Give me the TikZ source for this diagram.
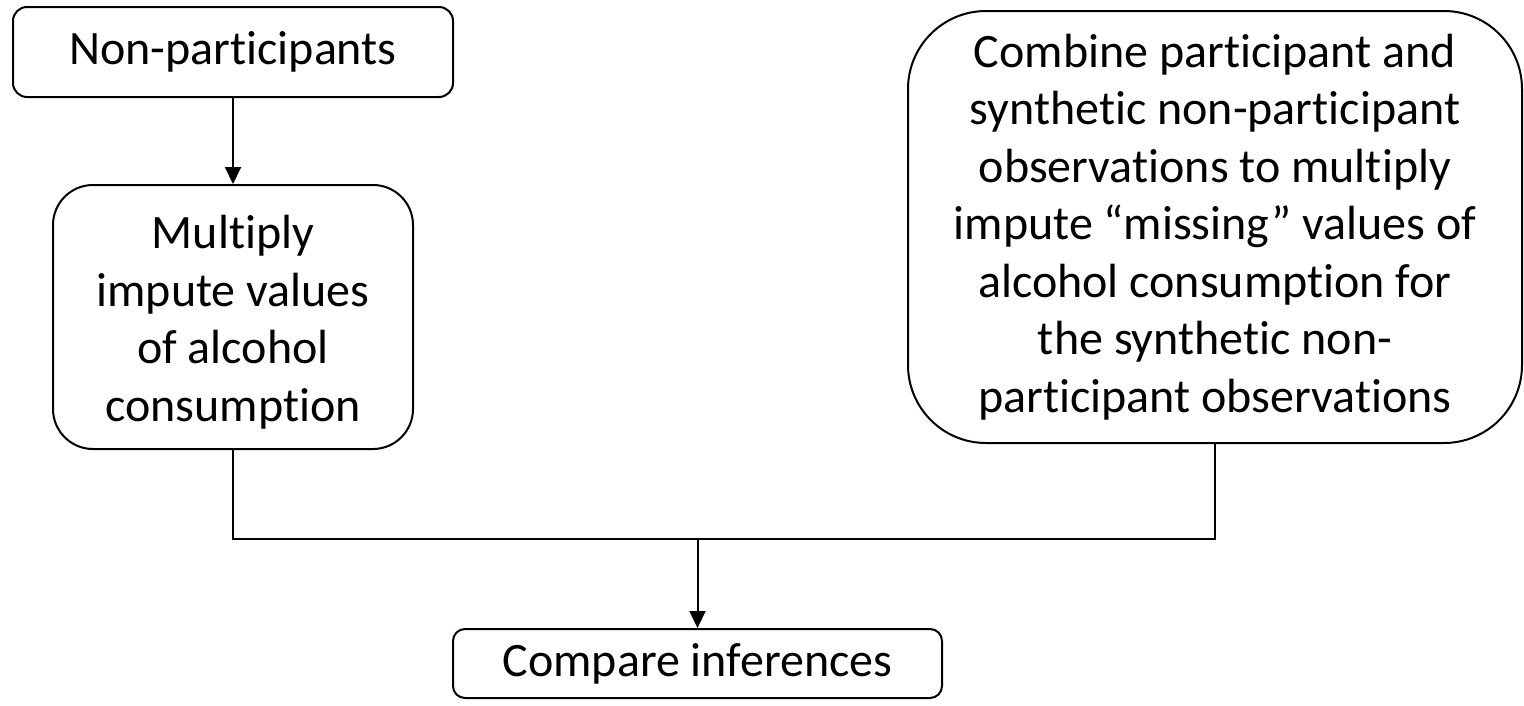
\documentclass[tikz,border=0pt]{standalone}
\usepackage{fontspec}
\setmainfont[Ligatures=NoCommon]{Carlito}
\usetikzlibrary{arrows.meta}
\begin{document}
\begin{tikzpicture}[x=1pt,y=-1pt,
  box/.style={draw=black,line width=2pt,align=center,inner sep=0pt,
    font=\fontsize{48}{57.5}\selectfont},
  conn/.style={line width=2pt,draw=black},
  arr/.style={conn,-{Triangle[length=17pt,width=16pt]}}]
\path[use as bounding box] (0,0) rectangle (1524,705);
\node[box,rounded corners=14pt,minimum width=440pt,minimum height=90pt] (np) at (233,52) {Non-participants};
\node[box,rounded corners=40pt,minimum width=360pt,minimum height=264pt] (mi) at (233,317) {\rule{0pt}{44pt}Multiply\\impute values\\of alcohol\\consumption};
\node[box,rounded corners=78pt,minimum width=614pt,minimum height=432pt] (co) at (1215,227) {Combine participant and\\synthetic non-participant\\observations to multiply\\impute “missing” values of\\alcohol consumption for\\the synthetic non-\\participant observations};
\node[box,rounded corners=12pt,minimum width=489pt,minimum height=69pt] (ci) at (697.5,663.5) {Compare inferences};
\coordinate (j) at (697.5,539);
\draw[arr] (np.south) -- (mi.north);
\draw[conn] (mi.south) |- (j) -| (co.south);
\draw[arr] (j) -- (ci.north);
\end{tikzpicture}
\end{document}
